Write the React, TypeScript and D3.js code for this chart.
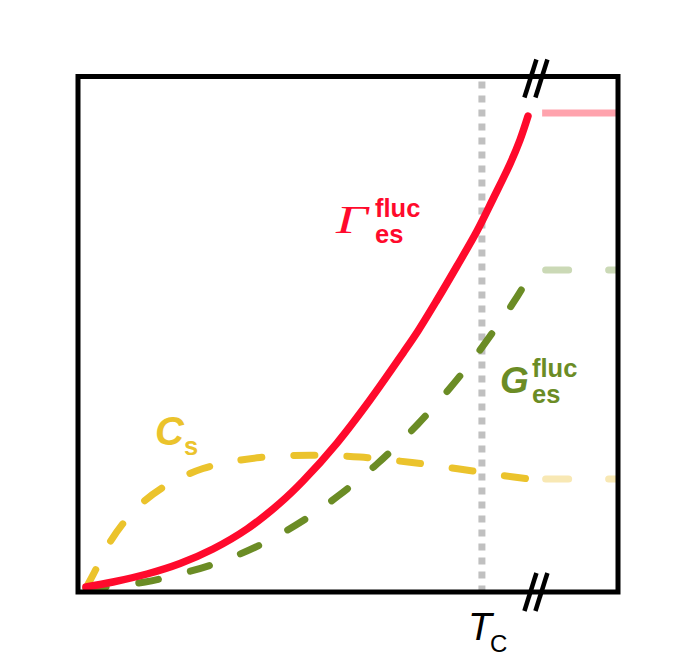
import React from "react";
import * as d3 from "d3";

// Data in abstract units: x = temperature (0..100 across the frame), y = magnitude (0..100)
const gammaX = [1.48, 6.48, 12.78, 18.89, 25.0, 31.3, 37.41, 41.67, 47.96, 54.07, 60.19, 62.96, 66.48, 70.19, 73.89, 76.85, 80.0, 81.85, 83.33];
const gammaY = [0.97, 1.94, 3.49, 5.53, 8.34, 12.22, 17.26, 21.53, 28.9, 37.25, 46.36, 50.63, 56.64, 63.24, 70.03, 76.24, 83.03, 87.68, 92.3];

const gesX = [1.48, 5.93, 12.41, 18.89, 25.74, 34.07, 42.41, 48.15, 55.37, 62.96, 68.89, 73.89, 78.15, 81.3, 84.26];
const gesY = [0.78, 1.07, 1.94, 3.49, 5.63, 9.31, 14.35, 18.62, 24.83, 32.59, 39.57, 46.17, 52.38, 57.23, 62.46];

const csX = [1.48, 2.78, 4.07, 5.93, 8.7, 11.85, 15.56, 18.89, 23.15, 28.15, 33.7, 39.81, 46.67, 52.22, 55.93, 61.85, 67.41, 73.15, 78.7, 83.7];
const csY = [0.78, 3.3, 6.01, 9.7, 13.77, 17.26, 20.17, 22.11, 23.96, 25.22, 26.09, 26.48, 26.48, 26.19, 25.8, 25.12, 24.35, 23.47, 22.6, 21.92];

// Saturated values beyond the axis break
const satStartX = 86.6;
const satEndX = 100;
const gammaSat = 92.92;
const gesSat = 62.46;
const csSat = 21.92;

const tcX = 74.8;
const breakX = 84.8;

const W = 697;
const H = 669;

export default function App() {
  const x = d3.scaleLinear().domain([0, 100]).range([78, 618]);
  const y = d3.scaleLinear().domain([0, 100]).range([592, 76.5]);

  const line = d3
    .line<[number, number]>()
    .x((d) => x(d[0]))
    .y((d) => y(d[1]))
    .curve(d3.curveCatmullRom.alpha(0.5));

  const zip = (a: number[], b: number[]) => a.map((v, i) => [v, b[i]] as [number, number]);

  const red = "#ff0a2c";
  const green = "#6b8c25";
  const yellow = "#ebc32c";

  const bx = x(breakX);
  const slash = (cx: number, cy: number, key: string) => (
    <g key={key}>
      {[-5.5, 5.5].map((o) => (
        <line
          key={o}
          x1={cx + o - 6}
          y1={cy + 19}
          x2={cx + o + 6}
          y2={cy - 19}
          stroke="#000"
          strokeWidth={4.5}
        />
      ))}
    </g>
  );

  const sans = "'Liberation Sans', Arial, sans-serif";

  return (
    <svg width={W} height={H} style={{ position: "absolute", left: 0, top: 0, background: "#fff" }}>
      <rect x={0} y={0} width={W} height={H} fill="#fff" />
      {/* Tc dotted line */}
      <line
        x1={x(tcX)}
        x2={x(tcX)}
        y1={y(100) + 5}
        y2={y(0)}
        stroke="#c0c0c0"
        strokeWidth={7}
        strokeDasharray="7 7"
      />
      {/* saturated continuations */}
      <line x1={x(satStartX) - 3.5} x2={x(satEndX)} y1={y(gammaSat)} y2={y(gammaSat)} stroke="#ffa3ad" strokeWidth={7} />
      <line
        x1={x(satStartX)}
        x2={x(satEndX) - 2}
        y1={y(gesSat)}
        y2={y(gesSat)}
        stroke="#cbd9b6"
        strokeWidth={7}
        strokeLinecap="round"
        strokeDasharray="23 40"
      />
      <line
        x1={x(satStartX)}
        x2={x(satEndX) - 2}
        y1={y(csSat)}
        y2={y(csSat)}
        stroke="#f8e8b4"
        strokeWidth={7}
        strokeLinecap="round"
        strokeDasharray="23 40"
      />
      {/* curves */}
      <path
        d={line(zip(csX, csY)) || ""}
        fill="none"
        stroke={yellow}
        strokeWidth={7}
        strokeLinecap="round"
        strokeDasharray="21 32"
      />
      <path
        d={line(zip(gesX, gesY)) || ""}
        fill="none"
        stroke={green}
        strokeWidth={7}
        strokeLinecap="round"
        strokeDasharray="20 33"
      />
      <path
        d={line(zip(gammaX, gammaY)) || ""}
        fill="none"
        stroke={red}
        strokeWidth={7.5}
        strokeLinecap="round"
      />
      {/* frame */}
      <rect
        x={x(0)}
        y={y(100)}
        width={x(100) - x(0)}
        height={y(0) - y(100)}
        fill="none"
        stroke="#000"
        strokeWidth={5}
      />
      {slash(bx, y(100) + 2, "top")}
      {slash(bx, y(0), "bottom")}
      {/* labels */}
      <g fill={red}>
        <text
          transform="translate(336,233) scale(1.4,1)"
          fontFamily="'Liberation Serif', 'Times New Roman', serif"
          fontStyle="italic"
          fontSize={40}
        >
          Γ
        </text>
        <text x={375} y={217} fontFamily={sans} fontWeight="bold" fontSize={25.5}>
          fluc
        </text>
        <text x={375} y={243} fontFamily={sans} fontWeight="bold" fontSize={25.5}>
          es
        </text>
      </g>
      <g fill={green}>
        <text x={500} y={393} fontFamily={sans} fontStyle="italic" fontWeight="bold" fontSize={37}>
          G
        </text>
        <text x={532} y={377} fontFamily={sans} fontWeight="bold" fontSize={25.5}>
          fluc
        </text>
        <text x={532} y={403} fontFamily={sans} fontWeight="bold" fontSize={25.5}>
          es
        </text>
      </g>
      <g fill={yellow}>
        <text x={155} y={445} fontFamily={sans} fontStyle="italic" fontWeight="bold" fontSize={40}>
          C
        </text>
        <text x={184} y={455} fontFamily={sans} fontWeight="bold" fontSize={25.5}>
          s
        </text>
      </g>
      <g fill="#000">
        <text x={468} y={640} fontFamily={sans} fontStyle="italic" fontSize={39}>
          T
        </text>
        <text x={490} y={652} fontFamily={sans} fontSize={24}>
          C
        </text>
      </g>
    </svg>
  );
}
